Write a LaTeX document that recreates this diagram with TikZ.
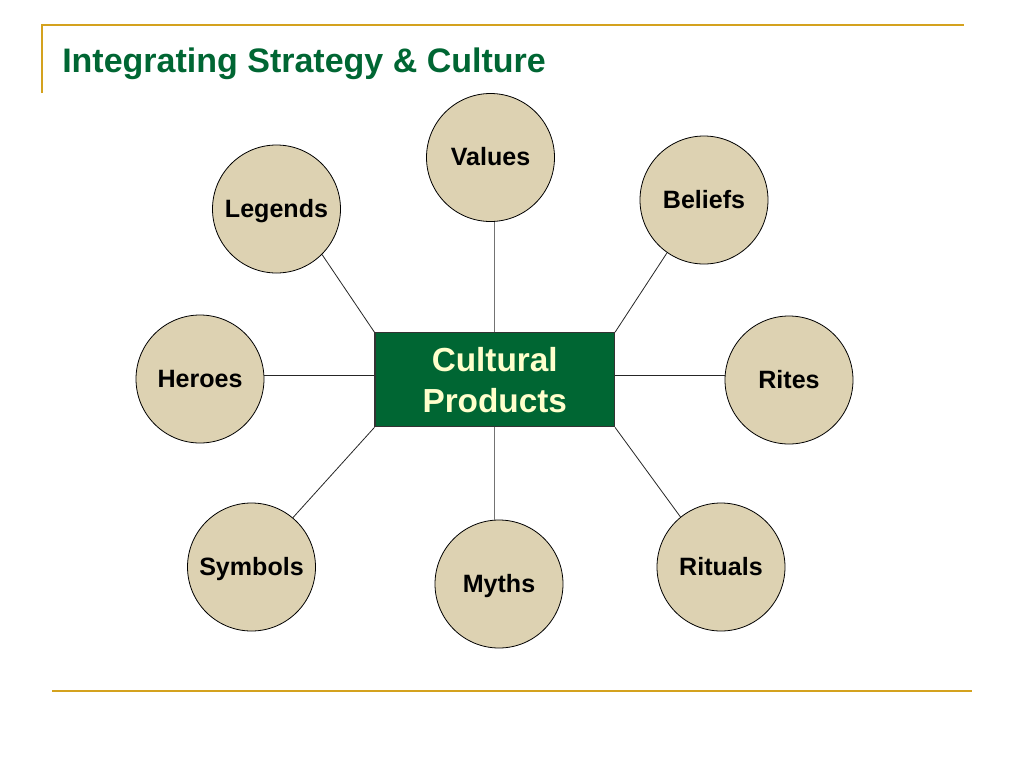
\documentclass[tikz,border=0pt]{standalone}
\usepackage{fontspec}
\setmainfont{Liberation Sans}
\definecolor{deepgreen}{RGB}{0,102,51}
\definecolor{sand}{RGB}{221,210,178}
\definecolor{cream}{RGB}{255,255,204}
\definecolor{gold}{RGB}{212,162,30}
\tikzset{
	every node/.style = {font=\bfseries},
	topic/.style = {circle, draw=black, line width=0.6pt, fill=sand, minimum size=96pt, inner sep=0pt,
		text height=12.6pt, text depth=0pt, font=\fontsize{18.8}{22}\selectfont\bfseries},
	product/.style = {rectangle, draw=black!80, line width=0.8pt, fill=deepgreen, text=cream,
		minimum width=179.6pt, minimum height=70.5pt, inner sep=0pt, align=center,
		font=\fontsize{25}{30.75}\selectfont\bfseries},
	link/.style = {draw=black!85, line width=0.6pt},
	stem/.style = {draw=black!55, line width=0.7pt},
	goldline/.style = {draw=gold, line width=1.5pt}
}

\begin{document}
	\begin{tikzpicture}[x=0.75pt, y=-0.75pt]
		\useasboundingbox (0,0) rectangle (1024,768);
		% frame and title
		\draw[goldline] (42,93) -- (42,25) -- (964,25);
		\draw[goldline] (52,691) -- (972,691);
		\node[anchor=base west, inner sep=0pt, text=deepgreen, font=\fontsize{25.5}{30}\selectfont\bfseries]
			(title) at (62,72) {Integrating Strategy \& Culture};

		\node[product, yshift=-0.6pt] (cp) at (494.75,379) {Cultural\\Products};

		\node[topic] (values) at (490.5,157.5) {Values};
		\node[topic] (beliefs) at (704,200) {Beliefs};
		\node[topic] (legends) at (276.5,209) {Legends};
		\node[topic] (heroes) at (200,379) {Heroes};
		\node[topic] (rites) at (789,380) {Rites};
		\node[topic] (symbols) at (251.5,567) {Symbols};
		\node[topic] (myths) at (499,584) {Myths};
		\node[topic] (rituals) at (721,567) {Rituals};

		\draw[stem] (cp.north) -- (cp.north |- values.south);
		\draw[stem] (cp.south) -- (cp.south |- myths.north);
		\draw[link] (cp.north west) -- (legends.-45);
		\draw[link] (cp.north east) -- (beliefs.-125);
		\draw[link] (cp.south west) -- (symbols.50);
		\draw[link] (cp.south east) -- (rituals.129);
		\draw[link] ([yshift=3pt]cp.west) -- ([yshift=3pt]cp.west -| heroes.east);
		\draw[link] ([yshift=3pt]cp.east) -- ([yshift=3pt]cp.east -| rites.west);
	\end{tikzpicture}
\end{document}
